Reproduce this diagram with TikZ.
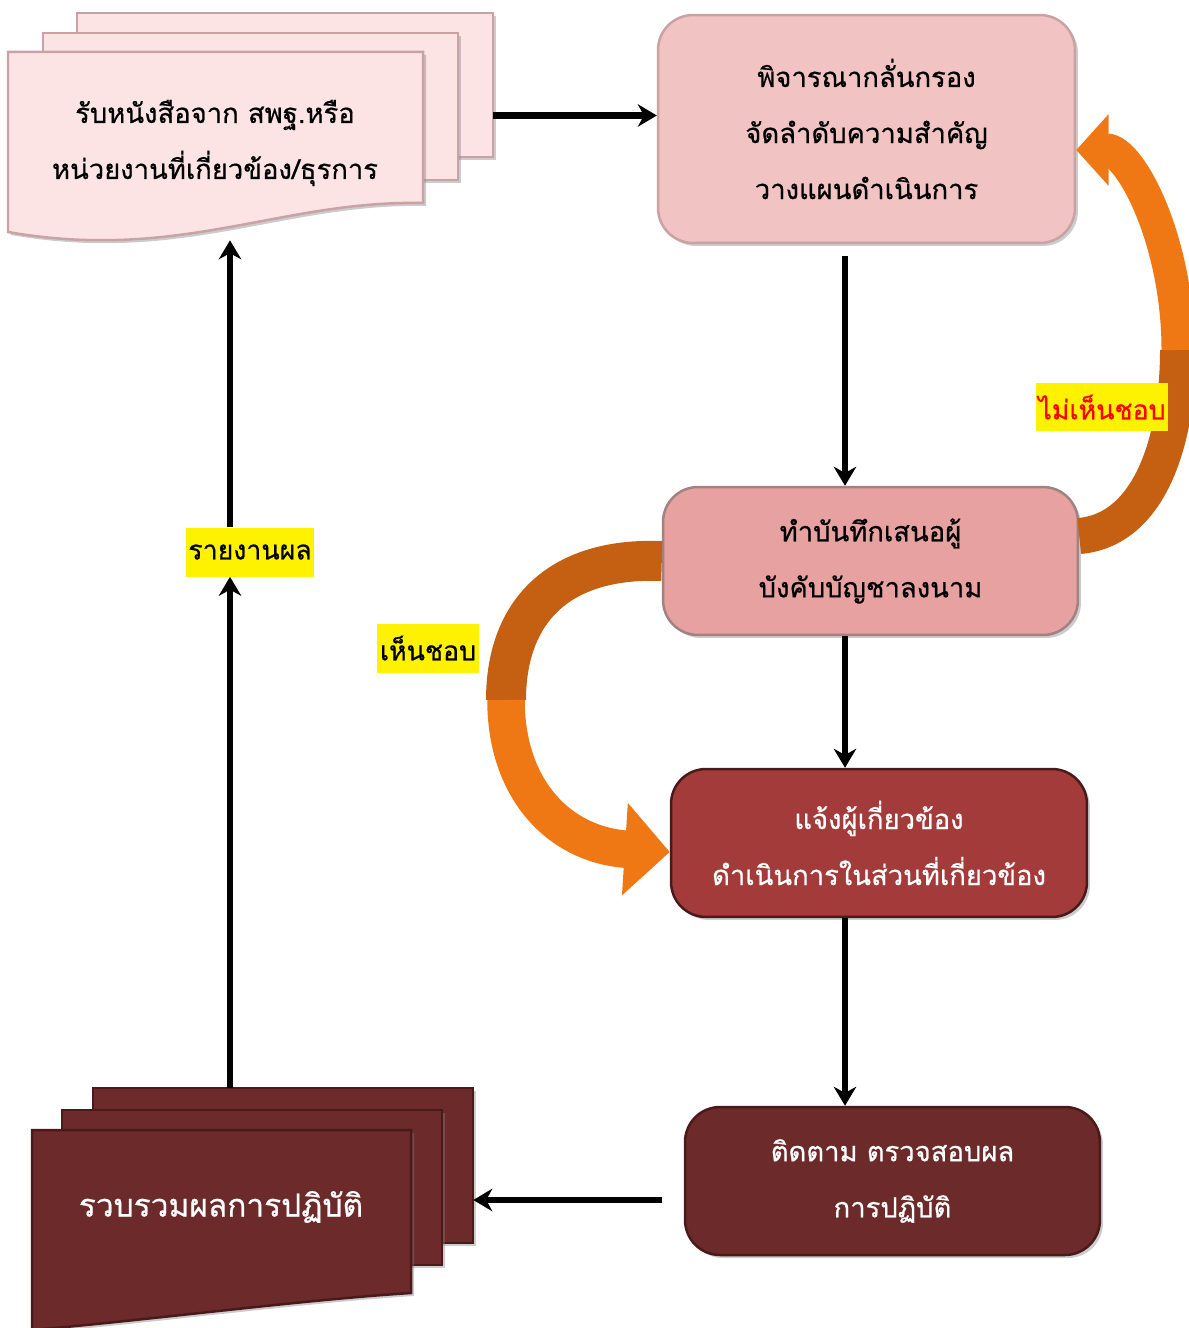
\documentclass[tikz,border=0pt]{standalone}
\usepackage{fontspec}
\newfontfamily\thaifont[Script=Thai, FakeBold=0.6]{Loma}
\usetikzlibrary{arrows.meta,shadows}

\definecolor{paperpink}{HTML}{FCE4E4}
\definecolor{paperedge}{HTML}{C9A3A3}
\definecolor{screenfill}{HTML}{F2C3C3}
\definecolor{memofill}{HTML}{E6A1A0}
\definecolor{notifyfill}{HTML}{A23B3A}
\definecolor{followfill}{HTML}{6C2A2A}
\definecolor{darkedge}{HTML}{4A1A1A}
\definecolor{orangedark}{HTML}{C55F11}
\definecolor{orangebright}{HTML}{F07814}

\tikzset{
  thaitext/.style={font=\thaifont\fontsize{15.6}{31.9}\selectfont, align=center},
  stepbox/.style={thaitext, rounded corners=0.7cm, minimum width=8.3cm,
    minimum height=2.96cm, line width=0.05cm,
    drop shadow={shadow xshift=0.06cm, shadow yshift=-0.06cm, opacity=0.4}},
  sheet/.style={line width=0.05cm,
    drop shadow={shadow xshift=0.06cm, shadow yshift=-0.06cm, opacity=0.4}},
  flow/.style={line width=0.13cm, -{Stealth[length=0.38cm, width=0.45cm]}},
  tag/.style={thaitext, font=\thaifont\fontsize{15.2}{20}\selectfont, fill=yellow,
    inner xsep=0.05cm, minimum height=0.98cm},
}

\begin{document}
\begin{tikzpicture}[x=0.02cm, y=-0.02cm]
  \useasboundingbox (0,0) rectangle (1189,1328);

  % received letters (three sheets)
  \filldraw[sheet, draw=paperedge, fill=paperpink] (77,13) rectangle (493,157);
  \filldraw[sheet, draw=paperedge, fill=paperpink] (43,33) rectangle (458,180);
  \filldraw[sheet, draw=paperedge, fill=paperpink] (8,52) -- (423,52) -- (423,203)
    .. controls (280,200) and (180,262) .. (8,232) -- cycle;
  \node[minimum width=9.7cm, minimum height=4.54cm] (recv) at (250.5,126.5) {};
  \node[thaitext] (recvtext) at (215,143) {รับหนังสือจาก สพฐ.หรือ\\หน่วยงานที่เกี่ยวข้อง/ธุรการ};

  % collected results (three sheets)
  \filldraw[sheet, draw=darkedge, fill=followfill] (93,1088) rectangle (473,1243);
  \filldraw[sheet, draw=darkedge, fill=followfill] (62,1110) rectangle (442,1265);
  \filldraw[sheet, draw=darkedge, fill=followfill] (32,1130) -- (411,1130) -- (411,1293)
    .. controls (300,1300) and (150,1320) .. (32,1330) -- cycle;
  \node[minimum width=8.82cm, minimum height=4.8cm] (collect) at (252.5,1208) {};
  \node[thaitext, font=\thaifont\fontsize{18}{31.9}\selectfont, text=white]
    (collecttext) at (221,1207) {รวบรวมผลการปฏิบัติ};

  % process boxes
  \node[stepbox, draw=paperedge, fill=screenfill, minimum width=8.34cm, minimum height=4.56cm]
    (screen) at (866.5,129) {พิจารณากลั่นกรอง\\จัดลำดับความสำคัญ\\วางแผนดำเนินการ};
  \node[stepbox, draw=paperedge!80!black, fill=memofill]
    (memo) at (870.5,561) {ทำบันทึกเสนอผู้\\บังคับบัญชาลงนาม};
  \node[stepbox, draw=darkedge, fill=notifyfill, text=white, minimum width=8.32cm]
    (notify) at (879,843) {แจ้งผู้เกี่ยวข้อง\\ดำเนินการในส่วนที่เกี่ยวข้อง};
  \node[stepbox, draw=darkedge, fill=followfill, text=white]
    (follow) at (892.5,1181) {ติดตาม ตรวจสอบผล\\การปฏิบัติ};

  % straight connectors
  \coordinate (spine) at (845,0);
  \coordinate (lane) at (230,0);
  \draw[flow] ([yshift=0.22cm]recv.east) -- ([yshift=0.22cm]recv.east -| screen.west);
  \draw[flow, shorten <=0.24cm] (screen.south -| spine) -- (memo.north -| spine);
  \draw[flow] (memo.south -| spine) -- (notify.north -| spine);
  \draw[flow] (notify.south -| spine) -- (follow.north -| spine);
  \draw[flow] ([xshift=-0.44cm, yshift=-0.38cm]follow.west) -- ([yshift=-0.38cm]follow.west -| collect.east);

  \node[tag] (report) at (250,552) {รายงานผล};
  \draw[flow] (collect.north -| lane) -- (report.south -| lane);
  \draw[flow] (report.north -| lane) -- (recv.south -| lane);

  % curved decisions
  \coordinate (yesbend) at (506,700);
  \coordinate (nobend) at (1178,350);
  \draw[orangedark, line width=0.8cm] (memo.west)
    .. controls (555,557) and (506,615) .. (yesbend);
  \draw[orangebright, line width=0.75cm, -{Triangle[length=0.9cm, width=1.8cm]}] (yesbend)
    .. controls (506,790) and (560,845) .. ([yshift=-0.18cm]notify.west);
  \draw[orangedark, line width=0.72cm] ([yshift=0.5cm]memo.east)
    .. controls (1150,530) and (1178,440) .. (nobend);
  \draw[orangebright, line width=0.66cm, -{Triangle[length=0.65cm, width=1.4cm]}] (nobend)
    .. controls (1178,240) and (1130,150) .. ([yshift=-0.42cm]screen.east);

  \node[tag] (approve) at (428,648) {เห็นชอบ};
  \node[tag, text=red] (reject) at (1102,407) {ไม่เห็นชอบ};
\end{tikzpicture}
\end{document}
